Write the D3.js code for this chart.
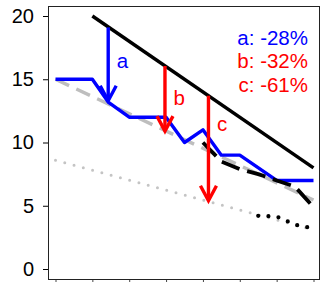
<!DOCTYPE html>
<html>
<head>
<meta charset="utf-8">
<script src="https://cdn.jsdelivr.net/npm/d3@7"></script>
<style>
  html, body { margin: 0; padding: 0; background: #fff; }
  svg { display: block; font-family: "Liberation Sans", Arial, sans-serif; }
</style>
</head>
<body>
<div id="chart"></div>
<script>
// --- Data (x in tick units 0..7) ---
const xTicks = [0, 1, 2, 3, 4, 5, 6, 7];
const yTicks = [0, 5, 10, 15, 20];

const blueX = [0, 1, 1.43, 2, 3, 3.5, 4, 4.5, 5, 6, 7];
const blueY = [15, 15, 13.2, 12, 12, 10, 11, 9, 9, 7, 7];

const blackX = [1, 7];
const blackY = [20, 8];

const grayDashX = [0, 7];
const grayDashY = [15, 5.45];

const grayDotX = [0, 7];
const grayDotY = [8.6, 3.1];

const blackDashX = [4, 4.5, 5, 5.5, 6, 6.5, 7];
const blackDashY = [10, 8.5, 7.9, 7.5, 7.0, 6.5, 4.9];

const blackDotX = [5.5, 6, 6.5, 7];
const blackDotY = [4.2, 4.15, 3.5, 3.2];

const arrowNames = ['a', 'b', 'c'];
const arrowX = [1.43, 2.97, 4.15];
const arrowFrom = [19.1, 16.05, 13.7];
const arrowTo = [13.3, 10.9, 5.4];
const arrowLabelY = [15.9, 13.0, 10.9];
const arrowColors = ['#0000ff', '#ff0000', '#ff0000'];
const legendLabels = ['a: -28%', 'b: -32%', 'c: -61%'];

// --- Layout ---
const width = 322, height = 282;
const box = { left: 48, top: 6, right: 319, bottom: 279 };

const x = d3.scaleLinear().domain([0, 7]).range([55.5, 313.5]);
const y = d3.scaleLinear().domain([0, 20]).range([269, 16]);

const svg = d3.select('#chart')
  .append('svg')
  .attr('width', width)
  .attr('height', height);

// --- Axes ---
const yAxis = d3.axisLeft(y).tickValues(yTicks).tickSize(5).tickPadding(9);
svg.append('g')
  .attr('transform', `translate(${box.left},0)`)
  .call(yAxis)
  .call(g => g.select('.domain').remove())
  .call(g => g.selectAll('text').attr('font-size', 20).attr('fill', '#000')
    .attr('font-family', '"Liberation Sans", Arial, sans-serif'));

const xAxis = d3.axisBottom(x).tickValues(xTicks).tickSize(5).tickFormat('');
svg.append('g')
  .attr('transform', `translate(0,${box.bottom})`)
  .call(xAxis)
  .call(g => g.select('.domain').remove())
  .call(g => g.selectAll('line').attr('stroke', '#444'));

// frame
svg.append('rect')
  .attr('x', box.left + 0.5)
  .attr('y', box.top + 0.5)
  .attr('width', box.right - box.left)
  .attr('height', box.bottom - box.top)
  .attr('fill', 'none')
  .attr('stroke', '#222')
  .attr('stroke-width', 1);

// --- Lines ---
const line = d3.line().x(d => x(d[0])).y(d => y(d[1]));
const zip = (xs, ys) => xs.map((v, i) => [v, ys[i]]);

function drawLine(xs, ys, color, w, dash, cap) {
  svg.append('path')
    .attr('d', line(zip(xs, ys)))
    .attr('fill', 'none')
    .attr('stroke', color)
    .attr('stroke-width', w)
    .attr('stroke-dasharray', dash || null)
    .attr('stroke-linecap', cap || 'butt')
    .attr('stroke-linejoin', 'round');
}

drawLine(grayDotX, grayDotY, '#c4c4c4', 3, '0,9.6', 'round');
drawLine(grayDashX, grayDashY, '#bebebe', 3.4, '15,8');
drawLine(blueX, blueY, '#0000ff', 3.4);
drawLine(blackDashX, blackDashY, '#000', 3.8, '19,8');
drawLine(blackDotX, blackDotY, '#000', 4.2, '0,10.2', 'round');
drawLine(blackX, blackY, '#000', 3.4);

// --- Arrows ---
arrowNames.forEach((name, i) => {
  const ax = x(arrowX[i]);
  const y0 = y(arrowFrom[i]);
  const y1 = y(arrowTo[i]);
  const col = arrowColors[i];
  svg.append('line')
    .attr('x1', ax).attr('x2', ax)
    .attr('y1', y0).attr('y2', y1 - 1)
    .attr('stroke', col)
    .attr('stroke-width', 3.4);
  svg.append('path')
    .attr('d', `M${ax - 8},${y1 - 15}L${ax},${y1}L${ax + 8},${y1 - 15}`)
    .attr('fill', 'none')
    .attr('stroke', col)
    .attr('stroke-width', 3.4)
    .attr('stroke-linejoin', 'miter');
  svg.append('text')
    .attr('x', ax + 8.5)
    .attr('y', y(arrowLabelY[i]))
    .attr('font-size', 20.5)
    .attr('fill', col)
    .text(name);
});

// --- Legend text ---
svg.selectAll('.legend')
  .data(legendLabels)
  .enter()
  .append('text')
  .attr('class', 'legend')
  .attr('x', 308)
  .attr('y', (d, i) => 45 + i * 23.4)
  .attr('text-anchor', 'end')
  .attr('font-size', 20.5)
  .attr('fill', (d, i) => arrowColors[i])
  .text(d => d);
</script>
</body>
</html>
